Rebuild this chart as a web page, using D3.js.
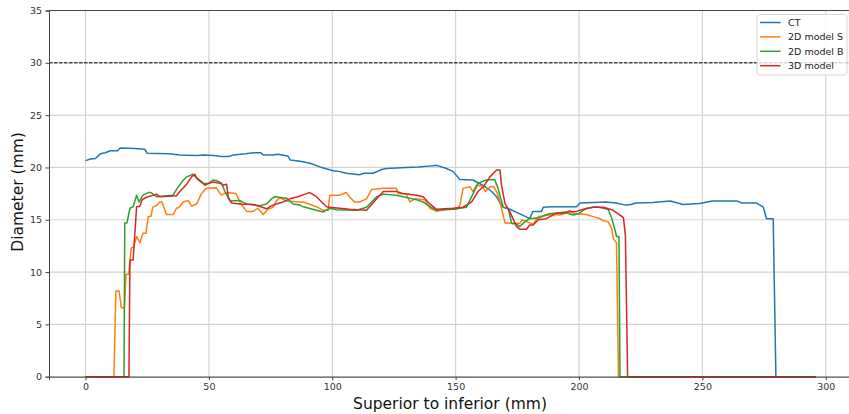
<!DOCTYPE html>
<html>
<head>
<meta charset="utf-8">
<script src="https://cdn.jsdelivr.net/npm/d3@7"></script>
<style>
  body { margin: 0; background: #fff; }
  svg text { font-family: "DejaVu Sans", sans-serif; }
</style>
</head>
<body>
<svg id="chart"></svg>
<script>
// series names and colours
const seriesNames = ["CT", "2D model S", "2D model B", "3D model"];
const seriesColors = ["#1f77b4", "#ff7f0e", "#2ca02c", "#d62728"];

// tick values
const xTicks = [0, 50, 100, 150, 200, 250, 300];
const yTicks = [0, 5, 10, 15, 20, 25, 30, 35];
const refLine = 30;

// [position (mm), diameter (mm)]
const ctData = [[0,20.65],[2,20.8],[4,20.85],[6,21.3],[8,21.4],[10,21.6],[13,21.6],[14,21.85],[20,21.8],[24,21.75],[25,21.35],
  [34,21.3],[38,21.2],[45,21.15],[48,21.2],[52,21.15],[55,21.05],[58,21.05],[60,21.2],[65,21.3],[68,21.4],[71,21.4],[72,21.2],
  [76,21.2],[78,21.25],[82,21.1],[83,20.7],[87,20.6],[91,20.4],[95,20.05],[100,19.7],[103,19.6],[105.7,19.45],[111,19.3],
  [113,19.45],[116.6,19.45],[120,19.8],[122,19.9],[130,20.0],[135,20.05],[140,20.15],[142.3,20.2],[146.3,19.9],[149,19.6],
  [151.7,18.85],[157,18.8],[161,18.3],[164.6,17.7],[166.6,17.2],[168,16.6],[169.3,16.2],[172,16.0],[174.7,15.7],[178,15.35],
  [180,15.1],[181.3,15.8],[184.8,15.8],[185.5,16.2],[189,16.25],[199,16.25],[200.4,16.6],[206,16.65],[211,16.7],[215,16.6],
  [219,16.4],[221,16.45],[223,16.6],[230,16.65],[237,16.8],[240,16.6],[242,16.45],[249,16.55],[254,16.8],[264,16.8],
  [266,16.6],[272,16.6],[274.7,16.2],[276,15.1],[278.7,15.1],[279.8,0],[296,0]];

const model2dS = [[0,0],[11.5,0],[12.3,8.2],[13.6,8.2],[14.5,6.6],[15.8,6.6],[16.4,9.8],[17.5,9.8],[18.5,12.3],[19.5,12.4],
  [20.7,13.4],[22,12.8],[23.3,13.7],[24.5,13.7],[25.4,15.3],[26.5,15.3],[27.3,16.2],[29,16.4],[30,16.7],[31,16.7],
  [32.8,15.5],[35.5,15.5],[36.9,16.1],[38,16.2],[39.6,16.7],[41.6,16.85],[43,16.3],[45,16.5],[47,17.5],[49,18.0],
  [53,18.05],[55,17.35],[57.2,17.6],[61,17.5],[63,16.5],[65.3,15.8],[68,15.8],[69.8,16.1],[72,15.5],[74,16.0],[76,16.2],
  [77.4,16.8],[78.8,17.1],[81.5,16.8],[86.9,16.7],[88.2,16.7],[93.6,16.25],[96.3,15.9],[98.3,15.9],[99,17.35],[103,17.35],
  [105.7,17.6],[107,17.2],[109,16.7],[111,16.7],[113.9,17.0],[116,17.9],[120.6,18.0],[126,18.0],[126.7,17.5],[130,17.45],
  [131.5,16.7],[133.5,17.0],[137.5,16.9],[139.6,16.1],[142.3,15.8],[146.3,16.0],[150.4,16.0],[151.7,16.4],[153,18.0],
  [155.8,18.15],[157,17.7],[158.5,18.3],[161,18.2],[162,17.7],[164,18.15],[165.5,18.15],[166.6,17.7],[168,16.7],
  [170,14.7],[176,14.65],[177,15.0],[180,14.7],[181.5,14.6],[183.5,15.3],[186.8,15.4],[189.5,15.5],[192.3,15.45],
  [194.3,15.6],[196.3,15.9],[197.7,15.6],[203,15.5],[205.8,15.3],[208.5,15.1],[209.8,14.9],[211.8,14.8],[213.2,14.2],
  [213.9,13.2],[215.2,12.8],[216,0],[296,0]];

const model2dB = [[0,0],[15.6,0],[15.9,14.7],[16.8,14.7],[18,16.1],[19.3,16.25],[20.7,17.35],[21.7,16.7],[23.3,17.35],
  [25.4,17.6],[26.5,17.6],[28.8,17.2],[35.5,17.35],[36.9,17.9],[39,18.6],[41,19.1],[43.6,19.35],[45.7,18.8],[47.7,18.45],
  [50,18.5],[51.7,18.8],[53,18.75],[55.1,18.5],[56.5,17.7],[58.5,16.8],[62.5,16.85],[65.3,16.5],[70.7,16.35],[73.4,16.5],
  [75.4,17.0],[76.7,17.2],[81.5,17.05],[84.1,16.5],[86.9,16.4],[88.2,16.25],[93.6,15.9],[96.3,15.75],[99,16.1],
  [101.7,15.95],[109.8,15.9],[113.9,16.2],[118,17.2],[120.7,17.45],[126,17.35],[128.8,17.2],[134.2,16.9],[136.8,16.7],
  [139.6,16.25],[142.3,15.9],[149,16.0],[154.4,16.2],[157.1,17.5],[159.1,18.5],[162.5,18.8],[165.8,18.85],[167.2,18.0],
  [168.2,17.1],[169.3,16.2],[171.3,16.1],[172.7,14.65],[174.5,14.6],[176,14.35],[178,14.8],[180,15.1],[184.2,15.2],
  [186.2,15.45],[188.3,15.6],[194.9,15.65],[197.7,15.45],[200,15.6],[203,16.1],[207.1,16.25],[211.8,16.0],[213.2,15.2],
  [214.6,14.0],[215.2,13.4],[216.2,13.4],[216.6,0],[296,0]];

const model3d = [[0,0],[17.6,0],[18,11.15],[19.3,11.15],[20.7,16.25],[22,16.3],[22.9,16.9],[24.7,17.15],[28.8,17.45],
  [30.1,17.2],[36.9,17.3],[38.2,17.7],[41,18.4],[43,19.1],[44.3,19.35],[45,19.0],[47,18.65],[48.4,18.3],[49.7,18.45],
  [51.7,18.6],[54.4,18.5],[55.8,18.3],[57.2,18.4],[57.8,17.2],[59.2,16.6],[62.5,16.5],[68,16.45],[71,16.25],[73.4,16.05],
  [75,16.3],[77.4,16.5],[80,16.7],[82.8,17.0],[86,17.2],[89.6,17.5],[90.9,17.6],[93.6,17.2],[95.7,16.7],[97.7,16.25],
  [99,16.2],[107,16.0],[113.9,15.9],[118,17.0],[120.7,17.7],[126,17.7],[128.8,17.5],[134.2,17.35],[136.8,17.2],
  [139.6,16.5],[142.3,16.0],[149,16.1],[153,16.2],[156.5,16.7],[159.1,17.7],[161.2,18.15],[163.9,19.1],[166.6,19.75],
  [168,19.75],[168.6,18.3],[170,16.55],[172,15.75],[174.7,14.35],[176,14.1],[178.7,14.1],[180,14.5],[181.4,14.5],
  [183.5,15.0],[186.8,15.1],[191,15.65],[194.9,15.75],[199,15.8],[201.7,16.0],[205.8,16.2],[209.8,16.2],[213.9,15.9],
  [218,15.2],[218.8,13.5],[219.7,0],[296,0]];

const allSeries = [ctData, model2dS, model2dB, model3d];

// chart dimensions
const width = 849;
const height = 414;
const marginLeft = 49, plotRight = 852.4, marginTop = 10.5, plotBottom = 376.7;

const x = d3.scaleLinear().domain([-14.8, 310.8]).range([marginLeft, plotRight]);
const y = d3.scaleLinear().domain([0, 35]).range([plotBottom, marginTop]);

const svg = d3.select("#chart")
    .attr("width", width)
    .attr("height", height);

// grid
const grid = svg.append("g").attr("stroke", "#d3d3d3").attr("stroke-width", 1.2);
grid.selectAll("line.gx")
    .data(xTicks)
    .join("line")
    .attr("class", "gx")
    .attr("x1", d => x(d)).attr("x2", d => x(d))
    .attr("y1", marginTop).attr("y2", plotBottom);
grid.selectAll("line.gy")
    .data(yTicks)
    .join("line")
    .attr("class", "gy")
    .attr("x1", marginLeft).attr("x2", plotRight)
    .attr("y1", d => y(d)).attr("y2", d => y(d));

// dashed reference line
svg.append("line")
    .attr("x1", marginLeft).attr("x2", plotRight)
    .attr("y1", y(refLine)).attr("y2", y(refLine))
    .attr("stroke", "#000")
    .attr("stroke-width", 1)
    .attr("stroke-dasharray", "3.5,1.5");

// lines
const line = d3.line()
    .x(d => x(d[0]))
    .y(d => y(d[1]));

svg.append("g")
    .attr("fill", "none")
    .attr("stroke-width", 1.5)
    .attr("stroke-linejoin", "round")
    .selectAll("path")
    .data(allSeries)
    .join("path")
    .attr("stroke", (d, i) => seriesColors[i])
    .attr("d", line);

// x-axis
const xAxis = svg.append("g")
    .attr("transform", `translate(0,${plotBottom})`)
    .call(d3.axisBottom(x).tickValues(xTicks).tickSize(3.5).tickPadding(3.5));
// y-axis
const yAxis = svg.append("g")
    .attr("transform", `translate(${marginLeft},0)`)
    .call(d3.axisLeft(y).tickValues(yTicks).tickSize(3.5).tickPadding(3.5));

[xAxis, yAxis].forEach(a => {
  a.select(".domain").attr("stroke", "#444").attr("stroke-width", 1);
  a.selectAll(".tick line").attr("stroke", "#444");
  a.selectAll(".tick text")
    .attr("fill", "#333")
    .style("font-family", "DejaVu Sans, sans-serif")
    .style("font-size", "9.5px");
});

// top spine
svg.append("line")
    .attr("x1", marginLeft).attr("x2", plotRight)
    .attr("y1", marginTop).attr("y2", marginTop)
    .attr("stroke", "#444");

// axis labels
svg.append("text")
    .attr("x", 450)
    .attr("y", 409)
    .attr("text-anchor", "middle")
    .style("font-size", "15.5px")
    .attr("fill", "#111")
    .text("Superior to inferior (mm)");

svg.append("text")
    .attr("transform", "translate(23,192) rotate(-90)")
    .attr("text-anchor", "middle")
    .style("font-size", "15.5px")
    .attr("fill", "#111")
    .text("Diameter (mm)");

// legend
const legend = svg.append("g").attr("transform", "translate(757,14.5)");
legend.append("rect")
    .attr("width", 90).attr("height", 60.5)
    .attr("rx", 2.5)
    .attr("fill", "#fff").attr("fill-opacity", 0.8)
    .attr("stroke", "#d6d6d6");
const items = legend.selectAll("g.item")
    .data(seriesNames)
    .join("g")
    .attr("class", "item")
    .attr("transform", (d, i) => `translate(0,${8 + i * 14.4})`);
items.append("line")
    .attr("x1", 3).attr("x2", 23.5)
    .attr("stroke", (d, i) => seriesColors[i])
    .attr("stroke-width", 1.5);
items.append("text")
    .attr("x", 31)
    .attr("dy", "0.35em")
    .style("font-size", "9.5px")
    .attr("fill", "#222")
    .text(d => d);
</script>
</body>
</html>
